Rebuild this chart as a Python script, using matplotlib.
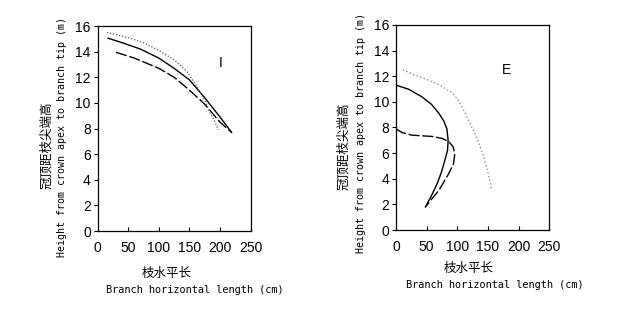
import matplotlib.pyplot as plt

# panel I
i_solid_x = [17, 40, 70, 100, 125, 150, 175, 200, 219]
i_solid_y = [15.05, 14.7, 14.2, 13.5, 12.7, 11.8, 10.4, 8.9, 7.7]
i_dash_x = [30, 60, 100, 125, 150, 175, 200, 219]
i_dash_y = [13.95, 13.5, 12.7, 12.0, 11.0, 9.9, 8.5, 7.7]
i_dot_x = [15, 50, 75, 100, 124, 145, 162, 175, 184, 192, 197]
i_dot_y = [15.5, 15.1, 14.7, 14.1, 13.4, 12.5, 11.3, 10.2, 9.2, 8.5, 7.9]

# panel E
e_solid_x = [0, 20, 42, 58, 70, 78, 83, 85, 84, 80, 74, 67, 57, 48]
e_solid_y = [11.3, 11.0, 10.4, 9.8, 9.1, 8.5, 7.9, 7.0, 6.2, 5.5, 4.5, 3.6, 2.6, 1.8]
e_dash_x = [0, 10, 26, 59, 75, 86, 93, 96, 94, 86, 70, 58, 48]
e_dash_y = [7.9, 7.6, 7.4, 7.3, 7.15, 6.9, 6.5, 6.0, 5.2, 4.4, 3.1, 2.4, 1.8]
e_dot_x = [11, 30, 53, 70, 80, 92, 102, 110, 118, 127, 135, 141, 146, 152, 156]
e_dot_y = [12.5, 12.1, 11.7, 11.35, 11.05, 10.7, 10.1, 9.4, 8.6, 7.7, 6.8, 6.0, 5.2, 4.1, 3.1]

xticks = [0, 50, 100, 150, 200, 250]
yticks = [0, 2, 4, 6, 8, 10, 12, 14, 16]

cjk = ['Noto Sans CJK SC', 'DejaVu Sans']
mono = ['DejaVu Sans Mono']

W, H = 624, 314
fig = plt.figure(figsize=(6.24, 3.14), dpi=100)
ax1 = fig.add_axes([0.1566, 0.264, 0.245, 0.653])
ax2 = fig.add_axes([0.6346, 0.2675, 0.2457, 0.653])


def ftext(px, py, s, **kw):
    # place text by figure pixel position (from top-left)
    fig.text(px / W, 1 - py / H, s, ha='center', va='center', **kw)


def style(ax, label, lx, ly):
    ax.set_xlim(0, 250)
    ax.set_ylim(0, 16)
    ax.set_xticks(xticks)
    ax.set_yticks(yticks)
    for s in ax.spines.values():
        s.set_linewidth(0.9)
    ax.tick_params(axis='y', direction='out', length=3, width=0.8, pad=2)
    ax.tick_params(axis='x', direction='in', length=3, width=0.8, pad=7)
    for t in ax.get_xticklabels() + ax.get_yticklabels():
        t.set_fontfamily('Liberation Sans')
        t.set_fontsize(10)
    ax.text(lx, ly, label, fontsize=10, family='Liberation Sans', ha='center', va='center')


ax1.plot(i_solid_x, i_solid_y, color='black', lw=1.0)
ax1.plot(i_dash_x, i_dash_y, color='black', lw=1.0, dashes=(8, 2))
ax1.plot(i_dot_x, i_dot_y, color='#555555', lw=0.9, linestyle=(0, (1, 1.5)))
style(ax1, 'I', 201, 13.1)

ax2.plot(e_solid_x, e_solid_y, color='black', lw=1.0)
ax2.plot(e_dash_x, e_dash_y, color='black', lw=1.0, dashes=(8, 2))
ax2.plot(e_dot_x, e_dot_y, color='#777777', lw=0.9, linestyle=(0, (1, 2)))
style(ax2, 'E', 181, 12.5)

# axis titles, left panel
ftext(47, 145, '冠顶距枝尖端高', rotation=90, fontsize=9, family=cjk)
ftext(62, 137, 'Height from crown apex to branch tip (m)', rotation=90, fontsize=7.2, family=mono)
ftext(167, 273, '枝水平长', fontsize=9, family=cjk)
ftext(195, 290, 'Branch horizontal length (cm)', fontsize=7.4, family=mono)

# axis titles, right panel
ftext(344, 146, '冠顶距枝尖端高', rotation=90, fontsize=9, family=cjk)
ftext(361, 133, 'Height from crown apex to branch tip (m)', rotation=90, fontsize=7.2, family=mono)
ftext(469, 268, '枝水平长', fontsize=9, family=cjk)
ftext(495, 285, 'Branch horizontal length (cm)', fontsize=7.4, family=mono)

fig.savefig('out.png', dpi=100)
